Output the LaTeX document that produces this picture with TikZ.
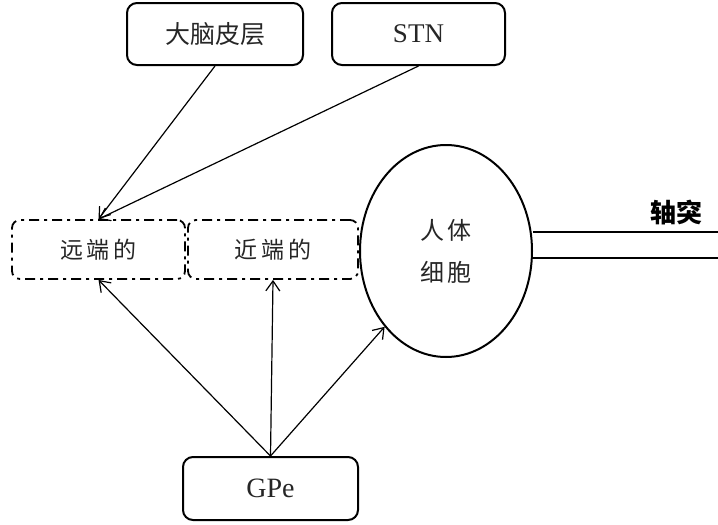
\documentclass[tikz,border=0pt]{standalone}
\usepackage{fontspec}
\setmainfont{Liberation Serif}
\newfontfamily\cjk{Noto Sans CJK SC}
\usetikzlibrary{shapes.geometric,arrows.meta}
\definecolor{txt}{HTML}{262626}
\tikzset{
  solidbox/.style={draw, line width=2pt, rounded corners=10pt, align=center, inner sep=0pt, text=txt},
  dashbox/.style={draw, line width=1.8pt, rounded corners=8pt, dash pattern=on 10pt off 5pt on 3pt off 5pt, inner sep=0pt, text=txt, font=\cjk\fontsize{23}{27}\selectfont},
  arr/.style={line width=1.2pt, -{Straight Barb[length=10pt,width=14pt,line width=1.2pt]}},
  axon/.style={line width=2.2pt}
}
\begin{document}
\begin{tikzpicture}[x=1pt,y=-1pt]
\useasboundingbox (0,0) rectangle (718,525);
\node[solidbox, minimum width=176pt, minimum height=62pt, font=\cjk\fontsize{25}{29}\selectfont] (cortex) at (215,34) {大脑皮层};
\node[solidbox, minimum width=173pt, minimum height=62pt, font=\fontsize{27}{31}\selectfont] (stn) at (418.5,34) {STN};
\node[dashbox, minimum width=173pt, minimum height=59pt] (distal) at (98.5,249.5) {远\,端\,的};
\node[dashbox, minimum width=170pt, minimum height=59pt] (proximal) at (273,249.5) {近\,端\,的};
\node[draw, ellipse, line width=2pt, minimum width=172pt, minimum height=212pt, inner sep=0pt, align=center, text=txt, font=\cjk\fontsize{24}{42}\selectfont] (cell) at (446,251) {人\,体\\细\,胞};
\node[solidbox, minimum width=175pt, minimum height=63pt, font=\fontsize{28}{32}\selectfont] (gpe) at (270.5,488.5) {GPe};
\node[font=\cjk\bfseries\fontsize{26}{30}\selectfont] (axlabel) at (676,213) {轴突};
\coordinate (ax1) at (718,232);
\coordinate (ax2) at (718,258);
\draw[axon] (cell.east |- ax1) -- (ax1);
\draw[axon] (cell.east |- ax2) -- (ax2);
\draw[arr] (cortex.south) -- (distal.north);
\draw[arr] (stn.south) -- (distal.north);
\draw[arr] (gpe.north) -- (distal.south);
\draw[arr] (gpe.north) -- (proximal.south);
\draw[arr] (gpe.north) -- (cell.231);
\end{tikzpicture}
\end{document}
